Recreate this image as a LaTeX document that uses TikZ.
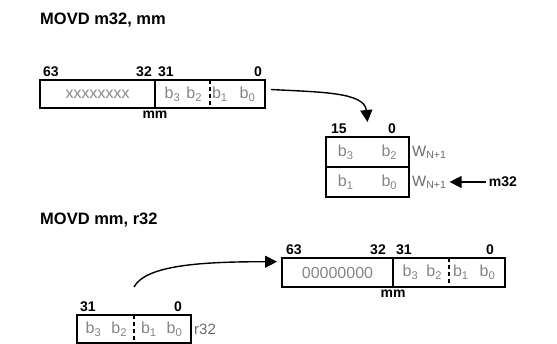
\documentclass[tikz,border=0pt]{standalone}
\usepackage{fontspec}
\setmainfont{Liberation Sans}
\usetikzlibrary{positioning,arrows.meta}
\definecolor{bitgray}{HTML}{858585}
\definecolor{wgray}{HTML}{6A6A6A}
\newcommand{\bsub}[1]{b\textsubscript{#1}}
\tikzset{
  reg/.style     = {rectangle, draw, line width=1.4pt, minimum height=28pt, inner sep=0pt, outer sep=0pt,
                    font=\fontsize{16}{18}\selectfont, text=bitgray},
  bitno/.style   = {font=\bfseries\fontsize{14}{16}\selectfont, inner sep=3pt},
  ttl/.style     = {font=\bfseries\fontsize{16.5}{18}\selectfont, anchor=west, inner sep=0pt},
  divider/.style = {line width=1.4pt, dash pattern=on 4pt off 3pt},
  xfer/.style    = {-{Triangle[length=12pt,width=12pt]}, line width=1.4pt},
  side/.style    = {font=\fontsize{15}{17}\selectfont, text=wgray, anchor=west, inner sep=3pt},
}
\begin{document}
\begin{tikzpicture}[x=1pt,y=1pt]
  \useasboundingbox (0,0) rectangle (557,344);
  % MOVD m32, mm
  \node[ttl] (t1) at (40,324) {MOVD m32, mm};
  \node[reg, minimum width=115pt] (hi) at (97.5,250) {xxxxxxxx};
  \node[reg, minimum width=110pt, right=0pt of hi] (lo) {\bsub{3}\hspace{6pt}\bsub{2}\hspace{10pt}\bsub{1}\hspace{12pt}\bsub{0}};
  \draw[divider] (lo.north) -- (lo.south);
  \node[bitno, anchor=south west] (h63) at (hi.north west) {63};
  \node[bitno, anchor=south east] (h32) at (hi.north east) {32};
  \node[bitno, anchor=south west] (l31) at (lo.north west) {31};
  \node[bitno, anchor=south east] (l0) at (lo.north east) {0};
  \node[bitno, anchor=north] (mm1) at (hi.south east) {mm};

  \node[reg, minimum width=83pt, minimum height=30pt] (wh) at (367.5,192) {\bsub{3}\hspace{28pt}\bsub{2}};
  \node[reg, minimum width=83pt, minimum height=30pt, below=0pt of wh] (wl) {\bsub{1}\hspace{28pt}\bsub{0}};
  \node[bitno, anchor=south west, xshift=2pt] (w15) at (wh.north west) {15};
  \node[bitno, anchor=south east, xshift=-10pt] (w0) at (wh.north east) {0};
  \node[side] (wnh) at (wh.east) {W\textsubscript{N+1}};
  \node[side] (wnl) at (wl.east) {W\textsubscript{N+1}};
  \node[bitno, right=36pt of wnl] (m32) {m32};
  \draw[xfer] (m32) -- (wnl);

  \coordinate[above=15pt of wh.north] (drop);
  \draw[xfer, shorten <=6pt] (lo.5) .. controls +(55,-3) and +(-3,30) .. (drop);

  % MOVD mm, r32
  \node[ttl] (t2) at (40,124) {MOVD mm, r32};
  \node[reg, minimum width=111pt, minimum height=29pt] (bhi) at (337.5,71.5) {00000000};
  \node[reg, minimum width=112pt, minimum height=29pt, right=0pt of bhi] (blo) {\bsub{3}\hspace{8pt}\bsub{2}\hspace{11pt}\bsub{1}\hspace{11pt}\bsub{0}};
  \draw[divider] (blo.north) -- (blo.south);
  \node[bitno, anchor=south west, xshift=1pt] (b63) at (bhi.north west) {63};
  \node[bitno, anchor=south east, xshift=-4pt] (b32) at (bhi.north east) {32};
  \node[bitno, anchor=south west] (b31) at (blo.north west) {31};
  \node[bitno, anchor=south east, xshift=-8pt] (b0) at (blo.north east) {0};
  \node[bitno, anchor=north] (mm2) at (bhi.south east) {mm};

  \node[reg, minimum width=114pt] (r32) at (134,15) {\bsub{3}\hspace{10pt}\bsub{2}\hspace{14pt}\bsub{1}\hspace{10pt}\bsub{0}};
  \draw[divider] (r32.north) -- (r32.south);
  \node[bitno, anchor=south west] (r31) at (r32.north west) {31};
  \node[bitno, anchor=south east, xshift=-6pt] (r0) at (r32.north east) {0};
  \node[side] (rlab) at (r32.east) {r32};

  \coordinate[above=28pt of r32.north] (lift);
  \draw[xfer, shorten >=5pt] (lift) .. controls +(12,22) and +(-80,0) .. (bhi.169);
\end{tikzpicture}
\end{document}
